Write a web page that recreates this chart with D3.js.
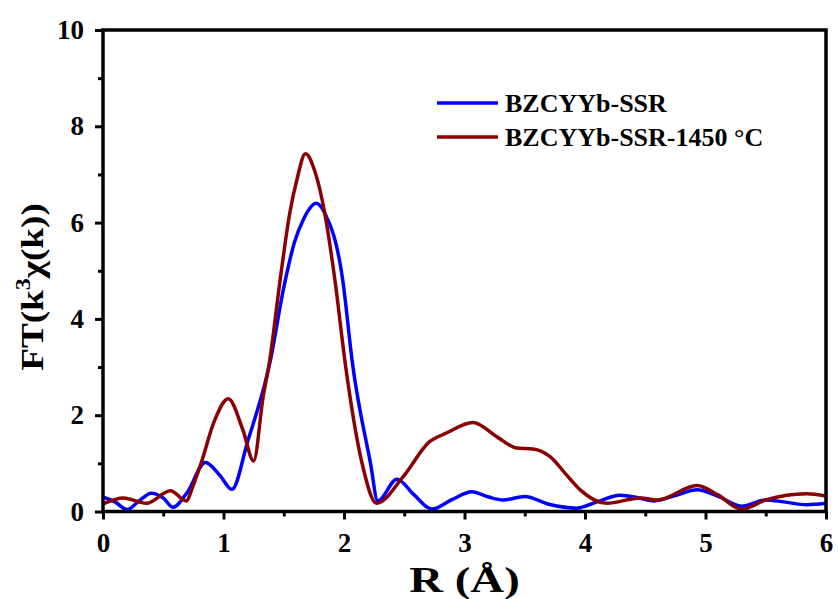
<!DOCTYPE html>
<html>
<head>
<meta charset="utf-8">
<script src="https://cdn.jsdelivr.net/npm/d3@7"></script>
<style>
  html, body { margin: 0; padding: 0; background: #ffffff; }
  svg { display: block; }
  text { font-family: "Liberation Serif", "Times New Roman", serif; font-weight: bold; fill: #000; }
</style>
</head>
<body>
<svg id="chart" width="838" height="599"></svg>
<script>
// ---- data ----
const seriesNames = ["BZCYYb-SSR", "BZCYYb-SSR-1450 \u00B0C"];
const seriesColors = ["#0000ff", "#8b0000"];

const rBlue = [0, 0.1, 0.2, 0.3, 0.4, 0.5, 0.58, 0.7, 0.85, 0.97, 1.07, 1.2, 1.39, 1.5, 1.59, 1.66, 1.77, 1.84, 1.99, 2.07, 2.22, 2.28, 2.44, 2.58, 2.73, 2.9, 3.06, 3.2, 3.32, 3.5, 3.7, 3.93, 4.1, 4.29, 4.45, 4.57, 4.75, 4.93, 5.1, 5.3, 5.5, 5.65, 5.84, 6.0];
const vBlue = [0.30, 0.20, 0.04, 0.22, 0.38, 0.28, 0.09, 0.40, 1.02, 0.75, 0.46, 1.45, 3.15, 4.65, 5.6, 6.05, 6.40, 6.2, 4.8, 3.08, 1.0, 0.22, 0.67, 0.35, 0.05, 0.25, 0.41, 0.30, 0.24, 0.31, 0.15, 0.07, 0.2, 0.34, 0.28, 0.22, 0.33, 0.45, 0.32, 0.11, 0.24, 0.2, 0.14, 0.17];

const rRed = [0, 0.17, 0.36, 0.56, 0.69, 0.75, 0.82, 0.92, 1.04, 1.16, 1.25, 1.33, 1.38, 1.47, 1.55, 1.61, 1.68, 1.76, 1.84, 1.925, 2.01, 2.15, 2.27, 2.49, 2.71, 2.85, 3.07, 3.27, 3.43, 3.57, 3.71, 3.85, 3.96, 4.18, 4.46, 4.6, 4.93, 5.1, 5.3, 5.5, 5.84, 6.0];
const vRed = [0.16, 0.28, 0.17, 0.43, 0.22, 0.55, 1.05, 1.85, 2.34, 1.7, 1.05, 2.4, 3.08, 4.81, 6.2, 6.9, 7.43, 7.05, 6.2, 4.8, 3.08, 1.0, 0.17, 0.72, 1.45, 1.63, 1.85, 1.55, 1.32, 1.3, 1.14, 0.75, 0.45, 0.17, 0.28, 0.24, 0.54, 0.35, 0.05, 0.24, 0.37, 0.32];

const xMajorTicks = [0, 1, 2, 3, 4, 5, 6];
const xMinorTicks = [0.5, 1.5, 2.5, 3.5, 4.5, 5.5];
const yMajorTicks = [0, 2, 4, 6, 8, 10];
const yMinorTicks = [1, 3, 5, 7, 9];

// ---- layout ----
const W = 838, H = 599;
const m = { left: 103, top: 30, right: 12, bottom: 87.5 };
const svg = d3.select("#chart");

const x = d3.scaleLinear().domain([0, 6]).range([m.left, W - m.right]);
const y = d3.scaleLinear().domain([0, 10]).range([H - m.bottom, m.top]);

const series = [
  { name: seriesNames[0], color: seriesColors[0], pts: rBlue.map((r, i) => [r, vBlue[i]]) },
  { name: seriesNames[1], color: seriesColors[1], pts: rRed.map((r, i) => [r, vRed[i]]) }
];

const line = d3.line()
  .x(d => x(d[0]))
  .y(d => y(d[1]))
  .curve(d3.curveMonotoneX);

// clip
svg.append("clipPath").attr("id", "clip")
  .append("rect").attr("x", m.left).attr("y", m.top)
  .attr("width", W - m.left - m.right).attr("height", H - m.top - m.bottom);

const g = svg.append("g").attr("clip-path", "url(#clip)");
series.forEach(s => {
  g.append("path")
    .datum(s.pts)
    .attr("fill", "none")
    .attr("stroke", s.color)
    .attr("stroke-width", 3.5)
    .attr("stroke-linejoin", "round")
    .attr("d", line);
});

// ---- axes ----
const xAxis = d3.axisBottom(x).tickValues(xMajorTicks).tickSize(8).tickPadding(13).tickFormat(d3.format("d"));
const xAxisMinor = d3.axisBottom(x).tickValues(xMinorTicks).tickSize(5).tickFormat("");
const yAxis = d3.axisLeft(y).tickValues(yMajorTicks).tickSize(8).tickPadding(11).tickFormat(d3.format("d"));
const yAxisMinor = d3.axisLeft(y).tickValues(yMinorTicks).tickSize(5).tickFormat("");

function styleAxis(sel) {
  sel.select(".domain").remove();
  sel.selectAll(".tick line").attr("stroke", "#000").attr("stroke-width", 3);
  sel.selectAll(".tick text")
    .attr("font-family", "'Liberation Serif', 'Times New Roman', serif")
    .attr("font-weight", "bold")
    .attr("font-size", 27)
    .attr("fill", "#000");
}

svg.append("g").attr("transform", `translate(0,${H - m.bottom})`).call(xAxis).call(styleAxis);
svg.append("g").attr("transform", `translate(0,${H - m.bottom})`).call(xAxisMinor).call(styleAxis);
svg.append("g").attr("transform", `translate(${m.left},0)`).call(yAxis).call(styleAxis);
svg.append("g").attr("transform", `translate(${m.left},0)`).call(yAxisMinor).call(styleAxis);

// frame
svg.append("rect")
  .attr("x", m.left).attr("y", m.top)
  .attr("width", W - m.left - m.right).attr("height", H - m.top - m.bottom)
  .attr("fill", "none").attr("stroke", "#000").attr("stroke-width", 3.5);

// ---- axis titles ----
svg.append("text")
  .attr("transform", `translate(${(m.left + W - m.right) / 2},592) scale(1.3,1)`)
  .attr("text-anchor", "middle")
  .attr("font-size", 36)
  .text("R (\u00C5)");

const yt = svg.append("text")
  .attr("transform", `translate(43,287) rotate(-90) scale(1.2,1)`)
  .attr("text-anchor", "middle")
  .attr("font-size", 31);
yt.append("tspan").text("FT(k");
yt.append("tspan").attr("dy", -13).attr("font-size", 20).text("3");
yt.append("tspan").attr("dy", 13).text("\u03C7(k))");

// ---- legend ----
const legend = svg.append("g");
series.forEach((s, i) => {
  const ly = 103 + i * 34;
  legend.append("line")
    .attr("x1", 437).attr("x2", 498)
    .attr("y1", ly).attr("y2", ly)
    .attr("stroke", s.color).attr("stroke-width", 3.5);
  legend.append("text")
    .attr("x", 505).attr("y", ly + 9)
    .attr("font-size", 26)
    .text(s.name);
});
</script>
</body>
</html>
